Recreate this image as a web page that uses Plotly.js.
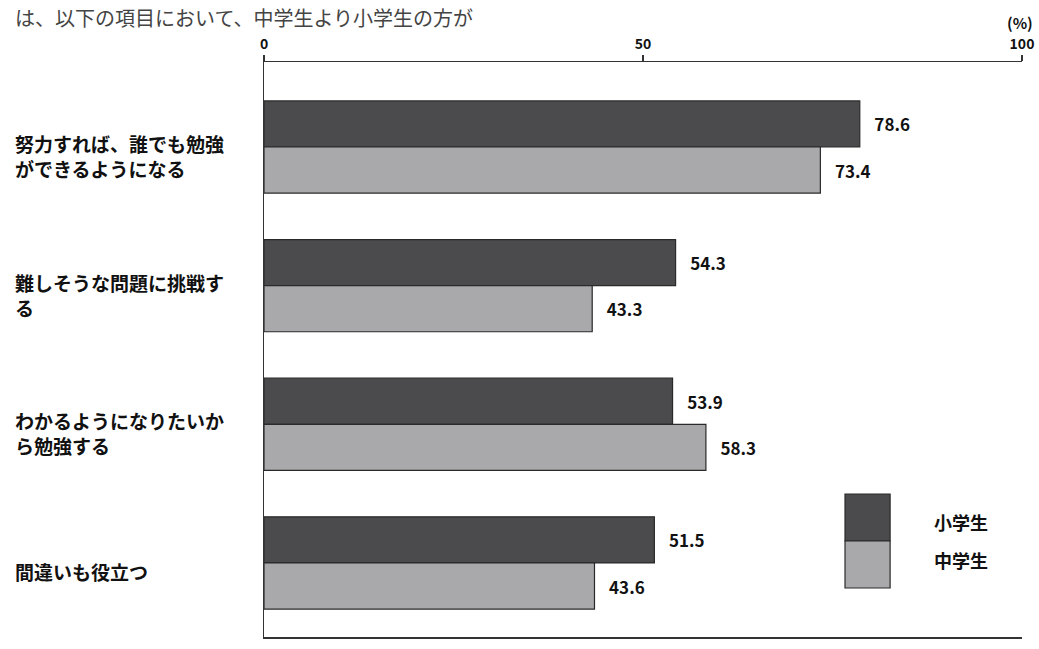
<!DOCTYPE html>
<html>
<head>
<meta charset="utf-8">
<script src="https://cdn.plot.ly/plotly-3.0.1.min.js"></script>
<style>
  html, body { margin: 0; padding: 0; background: #ffffff; }
  #chart { width: 1039px; height: 649px; }
</style>
</head>
<body>
<div id="chart"></div>
<script>
// ---- data ----
const categories = [
  "努力すれば、誰でも勉強<br>ができるようになる",
  "難しそうな問題に挑戦す<br>る",
  "わかるようになりたいか<br>ら勉強する",
  "間違いも役立つ"
];
const seriesNames = ["小学生", "中学生"];
const elementaryValues = [78.6, 54.3, 53.9, 51.5];
const juniorHighValues = [73.4, 43.3, 58.3, 43.6];
const tickValues = [0, 50, 100];
const tickLabels = ["0", "50", "100"];
const unitLabel = "(%)";
const headerText = "は、以下の項目において、中学生より小学生の方が";

// ---- styles ----
const darkColor = "#4b4b4d";
const lightColor = "#a9a9ab";
const edgeColor = "#2a2a2a";
const fontFamily = "'Noto Sans CJK JP', 'Noto Sans', sans-serif";

const idx = categories.map((c, i) => i);

function barTrace(name, values, color) {
  return {
    type: "bar",
    orientation: "h",
    name: name,
    x: values,
    y: idx,
    marker: { color: color, line: { color: edgeColor, width: 1.2 } },
    text: values.map(v => v.toFixed(1)),
    texttemplate: "\u00a0\u00a0\u00a0%{text}",
    textposition: "outside",
    textfont: { family: fontFamily, size: 17, color: "#111111", weight: "bold" },
    cliponaxis: false,
    hoverinfo: "x"
  };
}

const traces = [
  barTrace(seriesNames[0], elementaryValues, darkColor),
  barTrace(seriesNames[1], juniorHighValues, lightColor)
];

const annotations = [];
// category labels, left aligned
categories.forEach((c, i) => {
  annotations.push({
    xref: "paper", yref: "y",
    x: -0.331, y: i,
    text: "<b>" + c + "</b>",
    showarrow: false,
    xanchor: "left", yanchor: "middle", align: "left",
    yshift: -9,
    font: { family: fontFamily, size: 19, color: "#111111" }
  });
});
// unit label
annotations.push({
  xref: "paper", yref: "paper", x: 0.997, y: 1.068,
  text: "<b>" + unitLabel + "</b>", showarrow: false,
  xanchor: "center", yanchor: "middle",
  font: { family: fontFamily, size: 15, color: "#111111" }
});
// header (text from the top of the page)
annotations.push({
  xref: "paper", yref: "paper", x: -0.331, y: 1.106,
  text: headerText, showarrow: false,
  xanchor: "left", yanchor: "top",
  font: { family: fontFamily, size: 20, color: "#444444" }
});

// custom legend: stacked large swatches
const legX0 = 0.7665, legX1 = 0.826;
const legTop = 0.2487, legMid = 0.1670, legBot = 0.0852;
const shapes = [
  { type: "rect", xref: "paper", yref: "paper", x0: legX0, x1: legX1, y0: legMid, y1: legTop,
    fillcolor: darkColor, line: { color: edgeColor, width: 1.2 } },
  { type: "rect", xref: "paper", yref: "paper", x0: legX0, x1: legX1, y0: legBot, y1: legMid,
    fillcolor: lightColor, line: { color: edgeColor, width: 1.2 } }
];
annotations.push({
  xref: "paper", yref: "paper", x: 0.881, y: 0.2, text: "<b>" + seriesNames[0] + "</b>",
  showarrow: false, xanchor: "left", yanchor: "middle",
  font: { family: fontFamily, size: 18, color: "#111111" }
});
annotations.push({
  xref: "paper", yref: "paper", x: 0.881, y: 0.134, text: "<b>" + seriesNames[1] + "</b>",
  showarrow: false, xanchor: "left", yanchor: "middle",
  font: { family: fontFamily, size: 18, color: "#111111" }
});

const layout = {
  width: 1039, height: 649,
  margin: { l: 264, r: 17, t: 62, b: 12 },
  paper_bgcolor: "#ffffff",
  plot_bgcolor: "#ffffff",
  showlegend: false,
  barmode: "group",
  bargap: 0.335,
  bargroupgap: 0,
  xaxis: {
    side: "top",
    range: [0, 100],
    tickvals: tickValues,
    ticktext: tickLabels,
    ticks: "outside",
    ticklen: 6,
    tickwidth: 1.2,
    tickcolor: "#333333",
    showgrid: false,
    zeroline: false,
    showline: true,
    linecolor: "#333333",
    linewidth: 1.5,
    mirror: true,
    tickfont: { family: fontFamily, size: 14, color: "#111111", weight: "bold" }
  },
  yaxis: {
    range: [3.534, -0.613],
    showticklabels: false,
    ticks: "",
    showgrid: false,
    zeroline: false,
    showline: true,
    linecolor: "#333333",
    linewidth: 1.5
  },
  shapes: shapes,
  annotations: annotations
};

Plotly.newPlot("chart", traces, layout, { displayModeBar: false, staticPlot: true });
</script>
</body>
</html>
